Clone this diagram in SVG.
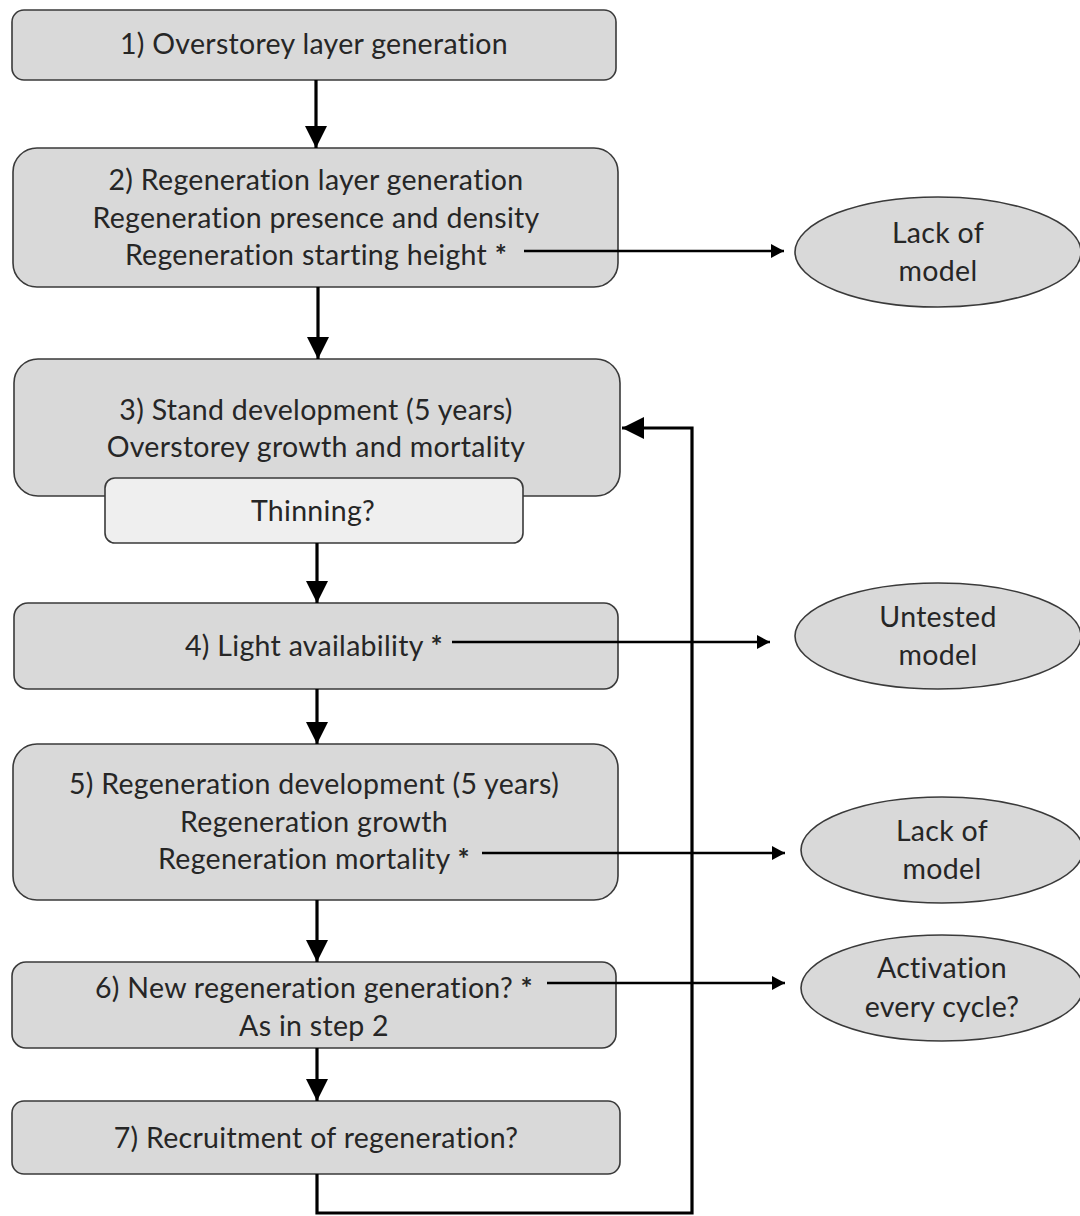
<svg xmlns="http://www.w3.org/2000/svg" width="1080" height="1216" viewBox="0 0 1080 1216">
  <style>
    .box { fill: #d9d9d9; stroke: #3a3a3a; stroke-width: 1.6; }
    .sub { fill: #efefef; stroke: #3a3a3a; stroke-width: 1.6; }
    .oval { fill: #d9d9d9; stroke: #3a3a3a; stroke-width: 1.6; }
    text { font-family: "Lato", "Open Sans", "Liberation Sans", sans-serif; font-size: 28.5px; letter-spacing: 0.3px; fill: #262626; text-anchor: middle; }
    .star { font-weight: 700; }
    .flow { fill: none; stroke: #000; stroke-width: 3.2; }
    .side { fill: none; stroke: #000; stroke-width: 2.4; }
  </style>
  <defs>
    <marker id="bigHead" markerUnits="userSpaceOnUse" markerWidth="22" markerHeight="24" refX="22" refY="11" orient="auto">
      <path d="M0,0 L22,11 L0,22 Z" fill="#000"/>
    </marker>
    <marker id="smallHead" markerUnits="userSpaceOnUse" markerWidth="14" markerHeight="14" refX="13" refY="7" orient="auto">
      <path d="M0,0 L13,7 L0,14 Z" fill="#000"/>
    </marker>
  </defs>

  <rect width="1080" height="1216" fill="#ffffff"/>

  <!-- process steps -->
  <g id="step1">
    <rect class="box" x="12" y="10" width="604" height="70" rx="12"/>
    <text x="314" y="54">1) Overstorey layer generation</text>
  </g>
  <g id="step2">
    <rect class="box" x="13" y="148" width="605" height="139" rx="24"/>
    <text x="316" y="190">2) Regeneration layer generation</text>
    <text x="316" y="228">Regeneration presence and density</text>
    <text x="316" y="265">Regeneration starting height <tspan class="star">*</tspan></text>
  </g>
  <g id="step3">
    <rect class="box" x="14" y="359" width="606" height="137" rx="24"/>
    <text x="316" y="420">3) Stand development (5 years)</text>
    <text x="316" y="457">Overstorey growth and mortality</text>
  </g>
  <g id="thinning">
    <rect class="sub" x="105" y="478" width="418" height="65" rx="10"/>
    <text x="313" y="521">Thinning?</text>
  </g>
  <g id="step4">
    <rect class="box" x="14" y="603" width="604" height="86" rx="14"/>
    <text x="314" y="656">4) Light availability <tspan class="star">*</tspan></text>
  </g>
  <g id="step5">
    <rect class="box" x="13" y="744" width="605" height="156" rx="24"/>
    <text x="314" y="794">5) Regeneration development (5 years)</text>
    <text x="314" y="832">Regeneration growth</text>
    <text x="314" y="869">Regeneration mortality <tspan class="star">*</tspan></text>
  </g>
  <g id="step6">
    <rect class="box" x="12" y="962" width="604" height="86" rx="14"/>
    <text x="314" y="998">6) New regeneration generation? <tspan class="star">*</tspan></text>
    <text x="314" y="1036">As in step 2</text>
  </g>
  <g id="step7">
    <rect class="box" x="12" y="1101" width="608" height="73" rx="12"/>
    <text x="316" y="1148">7) Recruitment of regeneration?</text>
  </g>

  <!-- notes on model status -->
  <g id="note-lack1">
    <ellipse class="oval" cx="938" cy="252" rx="143" ry="55"/>
    <text x="938" y="243">Lack of</text>
    <text x="938" y="281">model</text>
  </g>
  <g id="note-untested">
    <ellipse class="oval" cx="938" cy="636" rx="143" ry="53"/>
    <text x="938" y="627">Untested</text>
    <text x="938" y="665">model</text>
  </g>
  <g id="note-lack2">
    <ellipse class="oval" cx="942" cy="850" rx="141" ry="53"/>
    <text x="942" y="841">Lack of</text>
    <text x="942" y="879">model</text>
  </g>
  <g id="note-activation">
    <ellipse class="oval" cx="942" cy="988" rx="141" ry="53"/>
    <text x="942" y="978">Activation</text>
    <text x="942" y="1017">every cycle?</text>
  </g>

  <!-- connectors -->
  <g id="connectors">
    <line class="flow" x1="316" y1="80" x2="316" y2="148" marker-end="url(#bigHead)"/>
    <line class="flow" x1="318" y1="287" x2="318" y2="359" marker-end="url(#bigHead)"/>
    <line class="flow" x1="317" y1="543" x2="317" y2="603" marker-end="url(#bigHead)"/>
    <line class="flow" x1="317" y1="689" x2="317" y2="744" marker-end="url(#bigHead)"/>
    <line class="flow" x1="317" y1="900" x2="317" y2="962" marker-end="url(#bigHead)"/>
    <line class="flow" x1="317" y1="1048" x2="317" y2="1101" marker-end="url(#bigHead)"/>
    <polyline class="flow" points="317,1174 317,1213 692,1213 692,428 622,428" marker-end="url(#bigHead)"/>

    <line class="side" x1="524" y1="251" x2="784" y2="251" marker-end="url(#smallHead)"/>
    <line class="side" x1="452" y1="642" x2="770" y2="642" marker-end="url(#smallHead)"/>
    <line class="side" x1="482" y1="853" x2="785" y2="853" marker-end="url(#smallHead)"/>
    <line class="side" x1="547" y1="983" x2="785" y2="983" marker-end="url(#smallHead)"/>
  </g>
</svg>
